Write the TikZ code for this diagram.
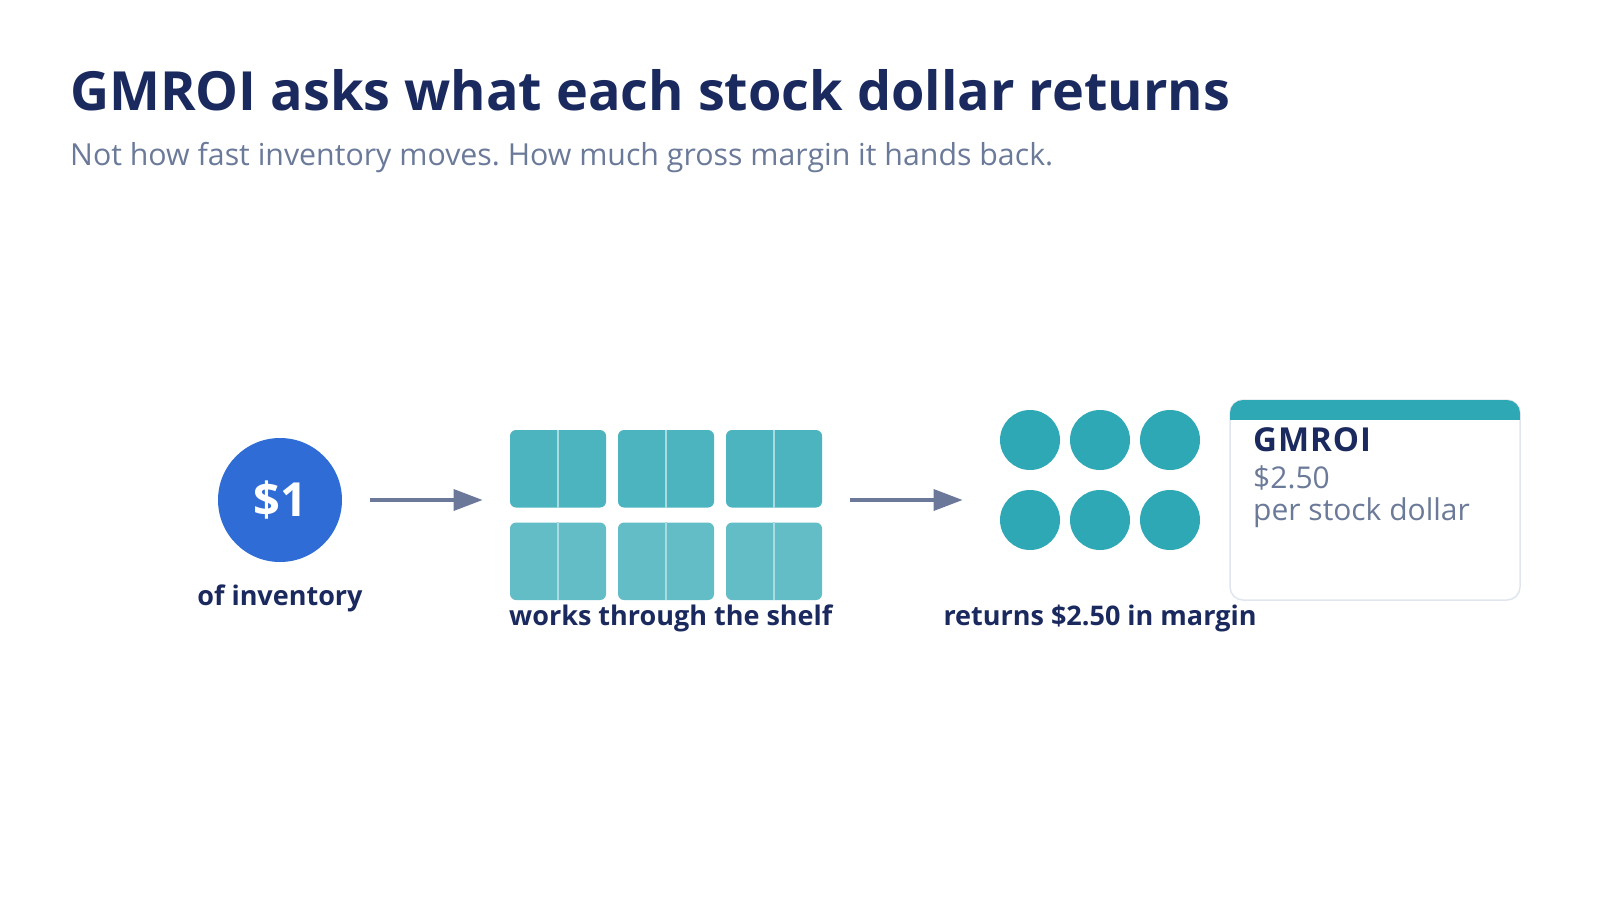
\documentclass[tikz,border=0pt]{standalone}
\usepackage{fontspec}
\setmainfont{Open Sans}
\frenchspacing
\usetikzlibrary{arrows.meta,fit}
\definecolor{navy}{HTML}{1B2A5E}
\definecolor{slate}{HTML}{6B7A99}
\definecolor{arrowc}{HTML}{6B7899}
\definecolor{blueC}{HTML}{306CD6}
\definecolor{tealC}{HTML}{2EA8B4}
\definecolor{boxTop}{HTML}{4BB4BE}
\definecolor{boxBot}{HTML}{62BDC6}
\definecolor{divider}{HTML}{A9DCE0}
\definecolor{cardline}{HTML}{E1E5EE}
\tikzset{
  shelfbox/.style={rounded corners=6pt, minimum width=96pt, minimum height=77.5pt, inner sep=0pt},
  coin/.style={circle, fill=tealC, minimum size=60pt, inner sep=0pt},
  flowarrow/.style={draw=arrowc, line width=3.5pt, -{Triangle[length=29pt,width=21pt]}},
  steplabel/.style={font=\fontsize{27}{32}\selectfont\bfseries, text=navy, inner sep=0pt, anchor=base},
  cardtext/.style={anchor=base west, inner sep=0pt, text=slate, font=\fontsize{30}{34}\selectfont},
}
\begin{document}
\begin{tikzpicture}[x=1pt,y=-1pt]
\useasboundingbox (0,0) rectangle (1600,900);
\fill[white] (0,0) rectangle (1600,900);
% title
\node[anchor=base west, inner sep=0pt, text=navy, font=\fontsize{54}{60}\selectfont\bfseries] (title) at (70,110) {GMROI asks what each stock dollar returns};
\node[anchor=base west, inner sep=0pt, text=slate, font=\fontsize{30.3}{34}\selectfont] (subtitle) at (70,165) {Not how fast inventory moves. How much gross margin it hands back.};
% dollar
\node[circle, fill=blueC, minimum size=124pt, inner sep=0pt, text=white, font=\fontsize{47}{50}\selectfont\bfseries] (dollar) at (280,500) {\$1};
\node[steplabel] (lab1) at (280,605) {of inventory};
% shelf boxes
\foreach \i/\x in {1/558,2/666,3/774}{
  \node[shelfbox, fill=boxTop] (t\i) at (\x,468.75) {};
  \draw[divider, line width=1.5pt] (t\i.north) -- (t\i.south);
  \node[shelfbox, fill=boxBot] (b\i) at (\x,561.25) {};
  \draw[divider, line width=1.5pt] (b\i.north) -- (b\i.south);
}
\node[fit=(t1)(b3), inner sep=0pt] (shelf) {};
\node[steplabel, anchor=base west] (lab2) at (509,625) {works through the shelf};
% coins
\foreach \i/\x in {1/1030,2/1100,3/1170}{
  \node[coin] (c\i) at (\x,440) {};
  \node[coin] (d\i) at (\x,520) {};
}
\node[fit=(c1)(d3), inner sep=0pt] (coins) {};
\node[steplabel] (lab3) at (1100,625) {returns \$2.50 in margin};
% arrows
\draw[flowarrow, shorten <=28pt, shorten >=27pt] (dollar.east) -- (dollar.east -| shelf.west);
\draw[flowarrow, shorten <=28pt, shorten >=37pt] (shelf.east |- dollar.east) -- (dollar.east -| coins.west);
% card
\node[draw=cardline, line width=1.5pt, fill=white, rounded corners=13pt, minimum width=290pt, minimum height=200pt, inner sep=0pt] (card) at (1375,500) {};
\begin{scope}
  \clip[rounded corners=13pt] (1230,400) rectangle (1520,600);
  \fill[tealC] (1230,399) rectangle (1520,420);
\end{scope}
\node[anchor=base west, inner sep=0pt, text=navy, font=\fontsize{33}{36}\selectfont\bfseries\addfontfeatures{LetterSpace=3}] (cardtitle) at (1253,451) {GMROI};
\node[cardtext] (cardval) at (1253,488) {\$2.50};
\node[cardtext] (cardsub) at (1253,520) {per stock dollar};
\end{tikzpicture}
\end{document}
